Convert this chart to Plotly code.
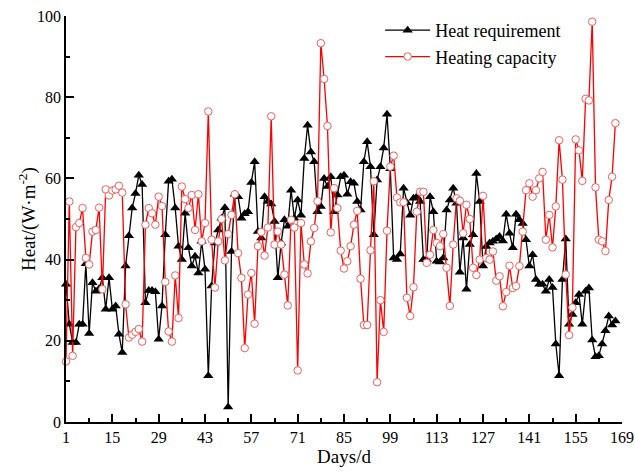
import plotly.graph_objects as go

days = list(range(1, 168))

heat_requirement = [
    33.9, 24.1, 19.6, 19.6, 24.1, 24.1, 39.0, 21.8, 34.3, 32.2,
    32.8, 35.5, 27.8, 35.5, 27.8, 28.6, 21.6, 17.1, 38.4, 45.9,
    52.7, 56.3, 60.8, 58.5, 29.4, 32.4, 32.4, 32.1, 20.4, 28.6,
    46.1, 59.3, 59.8, 52.7, 43.3, 40.0, 51.4, 42.9, 38.4, 40.8,
    36.7, 44.5, 37.6, 11.4, 33.5, 44.1, 47.3, 50.2, 52.8, 3.7,
    42.0, 56.1, 55.5, 50.2, 51.3, 51.8, 59.0, 64.1, 46.9, 45.3,
    55.5, 54.3, 53.7, 49.4, 35.5, 44.1, 49.8, 48.2, 57.1, 50.2,
    54.7, 50.9, 64.9, 73.1, 66.5, 64.1, 51.8, 53.1, 60.0, 58.0,
    60.4, 51.8, 55.9, 60.4, 60.8, 56.1, 59.2, 58.8, 54.3, 52.2,
    64.1, 69.0, 62.9, 46.1, 59.6, 62.9, 67.5, 75.8, 62.4, 40.4,
    40.0, 41.4, 57.6, 54.0, 50.9, 55.1, 55.5, 54.3, 40.0, 40.0,
    55.5, 51.8, 39.6, 39.4, 40.4, 52.2, 54.7, 57.6, 53.9, 36.9,
    45.3, 32.7, 43.7, 46.1, 61.2, 54.3, 38.4, 43.2, 44.1, 44.5,
    45.1, 45.7, 44.6, 51.2, 46.5, 42.9, 51.2, 49.8, 48.9, 44.9,
    38.4, 41.2, 35.1, 33.9, 33.9, 32.2, 35.1, 33.1, 19.2, 11.4,
    35.1, 45.1, 24.1, 26.5, 29.4, 31.4, 24.1, 32.2, 33.0, 20.2,
    16.1, 16.3, 19.2, 22.5, 26.1, 23.9, 24.9,
]

heating_capacity = [
    14.9, 54.3, 16.3, 48.0, 49.0, 52.7, 40.4, 38.8, 46.9, 47.3,
    52.8, 32.7, 57.3, 55.8, 57.0, 57.3, 58.2, 56.5, 29.0, 20.8,
    21.5, 22.2, 22.9, 19.8, 48.6, 52.7, 51.4, 48.6, 55.5, 53.2,
    34.5, 22.3, 19.8, 36.1, 25.6, 58.0, 54.9, 52.7, 55.9, 47.3,
    56.1, 44.5, 49.0, 76.5, 44.9, 33.1, 44.5, 50.0, 39.8, 46.3,
    51.0, 56.1, 41.6, 35.5, 18.2, 31.4, 36.7, 24.2, 43.3, 46.8,
    41.0, 47.9, 75.3, 43.7, 46.9, 43.7, 36.3, 28.7, 49.8, 47.9,
    12.7, 49.0, 38.8, 36.6, 44.5, 47.8, 54.4, 93.3, 84.5, 72.9,
    46.7, 57.6, 52.7, 42.2, 37.8, 39.6, 43.3, 48.6, 52.0, 35.3,
    23.9, 23.9, 42.3, 59.3, 9.8, 30.0, 22.2, 47.1, 62.9, 65.6,
    55.3, 54.1, 54.1, 30.6, 26.1, 33.2, 51.8, 56.7, 56.7, 39.2,
    41.2, 47.3, 44.1, 43.3, 46.3, 38.0, 28.6, 43.7, 55.1, 54.5,
    46.5, 53.5, 50.0, 38.0, 36.2, 40.0, 55.7, 40.4, 40.0, 42.0,
    34.8, 35.9, 28.5, 32.0, 38.5, 33.0, 33.5, 38.4, 46.9, 57.1,
    58.8, 55.5, 57.1, 60.0, 61.6, 44.9, 51.0, 43.0, 53.1, 69.4,
    59.7, 36.3, 21.4, 28.2, 69.6, 66.9, 59.4, 79.6, 79.2, 98.6,
    57.8, 44.9, 44.5, 42.1, 54.7, 60.4, 73.6,
]

x_tick_vals = [1, 15, 29, 43, 57, 71, 85, 99, 113, 127, 141, 155, 169]
x_minor_vals = [8, 22, 36, 50, 64, 78, 92, 106, 120, 134, 148, 162]
y_tick_vals = [0, 20, 40, 60, 80, 100]
y_minor_vals = [10, 30, 50, 70, 90]

fig = go.Figure()
fig.add_trace(go.Scatter(
    x=days, y=heat_requirement, mode="lines+markers", name="Heat requirement",
    line=dict(color="black", width=1.3),
    marker=dict(symbol="triangle-up", size=9, color="black"),
    cliponaxis=False,
))
fig.add_trace(go.Scatter(
    x=days, y=heating_capacity, mode="lines+markers", name="Heating capacity",
    line=dict(color="#ff0000", width=1.3),
    marker=dict(symbol="circle", size=7.5, color="white",
                line=dict(color="#f06060", width=1)),
    cliponaxis=False,
))

axis_common = dict(
    showline=True, linecolor="black", linewidth=1.5, mirror=False,
    showgrid=False, zeroline=False, automargin=False,
    ticks="inside", ticklen=8, tickwidth=1.5, tickcolor="black",
    tickfont=dict(size=16, color="black"), ticklabeloverflow="allow",
)

fig.update_layout(
    width=635, height=472,
    margin=dict(l=66, r=13, t=14, b=50),
    paper_bgcolor="white", plot_bgcolor="white",
    font=dict(family="Liberation Serif, Times New Roman, serif", size=16, color="black"),
    showlegend=True,
    legend=dict(x=0.565, y=1.01, xanchor="left", yanchor="top",
                bgcolor="rgba(0,0,0,0)", font=dict(size=18), itemwidth=45,
                tracegroupgap=0),
    xaxis=dict(
        range=[1, 169], tickmode="array", tickvals=x_tick_vals,
        ticktext=[str(v) for v in x_tick_vals],
        title=dict(text="Days/d", font=dict(size=19), standoff=2),
        minor=dict(tickmode="array", tickvals=x_minor_vals, ticks="inside",
                   ticklen=4, tickwidth=1.5, tickcolor="black"),
        **axis_common,
    ),
    yaxis=dict(
        range=[0, 100], tickmode="array", tickvals=y_tick_vals,
        ticktext=[str(v) for v in y_tick_vals],
        minor=dict(tickmode="array", tickvals=y_minor_vals, ticks="inside",
                   ticklen=4, tickwidth=1.5, tickcolor="black"),
        **axis_common,
    ),
    annotations=[dict(
        text="Heat/(W·m<sup>-2</sup>)", xref="paper", yref="paper",
        x=-0.07, y=0.5, xanchor="center", yanchor="middle",
        textangle=-90, showarrow=False, font=dict(size=19),
    )],
)

fig.write_html(
    "out.html",
    config={"displayModeBar": False},
    post_script="document.body.style.margin='0';document.body.style.overflow='hidden';",
)
